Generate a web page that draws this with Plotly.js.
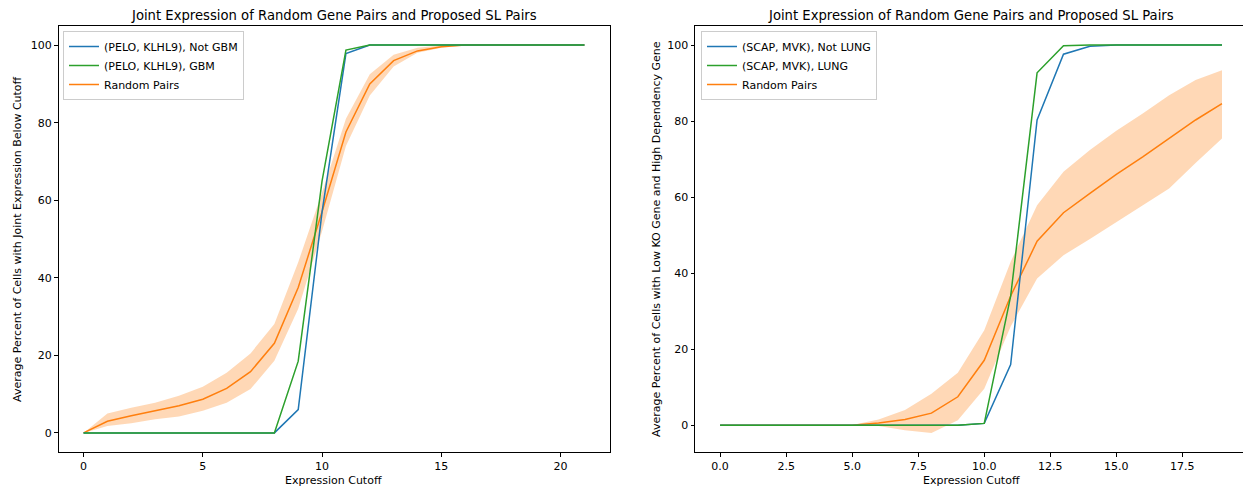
<!DOCTYPE html>
<html>
<head>
<meta charset="utf-8">
<script src="https://cdn.plot.ly/plotly-3.0.1.min.js"></script>
<style>html,body{margin:0;padding:0;background:#fff;}#chart{width:1243px;height:486px;}</style>
</head>
<body>
<div id="chart"></div>
<script>
// ---- Left panel data (PELO, KLHL9) ----
const xLeft = [0,1,2,3,4,5,6,7,8,9,10,11,12,13,14,15,16,17,18,19,20,21];
const notGbm = [0,0,0,0,0,0,0,0,0,6,57,97.8,100,100,100,100,100,100,100,100,100,100];
const gbm    = [0,0,0,0,0,0,0,0,0,18.5,65,98.7,100,100,100,100,100,100,100,100,100,100];
const randLeft      = [0,3.0,4.4,5.7,7.0,8.7,11.5,15.8,23.1,37.5,57,77.6,90.0,96.0,98.5,99.6,100,100,100,100,100,100];
const randLeftLow   = [0,1.8,2.5,3.5,4.2,5.7,7.8,11.3,18.6,32,52,74,87,94.5,98,99.3,99.9,100,100,100,100,100];
const randLeftHigh  = [0,5.0,6.5,7.8,9.6,11.9,15.5,20.5,28.1,44,62,81,92.5,97.5,99.3,99.9,100,100,100,100,100,100];

// ---- Right panel data (SCAP, MVK) ----
const xRight = [0,1,2,3,4,5,6,7,8,9,10,11,12,13,14,15,16,17,18,19];
const notLung = [0,0,0,0,0,0,0,0,0,0,0.5,16,80.3,97.6,99.7,100,100,100,100,100];
const lung    = [0,0,0,0,0,0,0,0,0,0,0.5,34,92.7,99.8,100,100,100,100,100,100];
const randRight     = [0,0,0,0,0,0,0.6,1.5,3.2,7.5,17.1,34,48.4,55.9,61,66,70.6,75.4,80.3,84.6];
const randRightLow  = [0,0,0,0,0,0,-0.2,-1.3,-2,1.3,9.6,26,38.6,44.7,49,53.5,58,62.3,69,75.4];
const randRightHigh = [0,0,0,0,0,0.1,1.5,4,8.3,13.8,25,43,57.9,66.7,72.4,77.5,82,86.8,90.8,93.4];

const titleText = "Joint Expression of Random Gene Pairs and Proposed SL Pairs";
const xTitle = "Expression Cutoff";
const yTitleLeft = "Average Percent of Cells with Joint Expression Below Cutoff";
const yTitleRight = "Average Percent of Cells with Low KO Gene and High Dependency Gene";

const BLUE = "#1f77b4", GREEN = "#2ca02c", ORANGE = "#ff7f0e", BAND = "rgba(255,127,14,0.3)";
const FONT = "DejaVu Sans, sans-serif";
const W = 1243, H = 486;
const FS = 11, TFS = 13.2;

function band(x, lo, hi, xa, ya) {
  return [
    {x: x, y: lo, xaxis: xa, yaxis: ya, mode: "lines", line: {width: 0, color: BAND}, showlegend: false, hoverinfo: "skip"},
    {x: x, y: hi, xaxis: xa, yaxis: ya, mode: "lines", line: {width: 0, color: BAND}, fill: "tonexty", fillcolor: BAND, showlegend: false, hoverinfo: "skip"}
  ];
}
function line(x, y, name, color, xa, ya, leg, rank) {
  return {x: x, y: y, xaxis: xa, yaxis: ya, mode: "lines", name: name, line: {color: color, width: 1.5}, legend: leg, legendrank: rank};
}

const data = [].concat(
  band(xLeft, randLeftLow, randLeftHigh, "x", "y"),
  [line(xLeft, randLeft, "Random Pairs", ORANGE, "x", "y", "legend", 3),
   line(xLeft, notGbm, "(PELO, KLHL9), Not GBM", BLUE, "x", "y", "legend", 1),
   line(xLeft, gbm, "(PELO, KLHL9), GBM", GREEN, "x", "y", "legend", 2)],
  band(xRight, randRightLow, randRightHigh, "x2", "y2"),
  [line(xRight, randRight, "Random Pairs", ORANGE, "x2", "y2", "legend2", 3),
   line(xRight, notLung, "(SCAP, MVK), Not LUNG", BLUE, "x2", "y2", "legend2", 1),
   line(xRight, lung, "(SCAP, MVK), LUNG", GREEN, "x2", "y2", "legend2", 2)]
);

const axisCommon = {
  showgrid: false, zeroline: false, showline: true, mirror: true,
  linecolor: "#000", linewidth: 1, ticks: "outside", ticklen: 3.5, tickwidth: 1,
  tickcolor: "#000", tickfont: {family: FONT, size: FS, color: "#000"}
};
const yDom = [1 - 452.3 / H, 1 - 25.7 / H];

const legendCommon = {
  font: {family: FONT, size: FS, color: "#000"}, bgcolor: "rgba(255,255,255,0.8)",
  bordercolor: "#cccccc", borderwidth: 1, xanchor: "left", yanchor: "top",
  tracegroupgap: 0, traceorder: "normal"
};

const layout = {
  width: W, height: H,
  margin: {l: 0, r: 0, t: 0, b: 0},
  paper_bgcolor: "#fff", plot_bgcolor: "#fff",
  font: {family: FONT, size: FS, color: "#000"},
  xaxis: Object.assign({}, axisCommon, {domain: [58.5 / W, 609.5 / W], range: [-1.05, 22.05], tickvals: [0,5,10,15,20], anchor: "y"}),
  yaxis: Object.assign({}, axisCommon, {domain: yDom, range: [-5, 105], tickvals: [0,20,40,60,80,100], anchor: "x"}),
  xaxis2: Object.assign({}, axisCommon, {domain: [695 / W, 1], range: [-0.95, (W - 720) / 26.42], tickvals: [0,2.5,5,7.5,10,12.5,15,17.5], tickformat: ".1f", anchor: "y2"}),
  yaxis2: Object.assign({}, axisCommon, {domain: yDom, range: [-7.1, 105.1], tickvals: [0,20,40,60,80,100], anchor: "x2"}),
  legend: Object.assign({}, legendCommon, {x: 63 / W, y: 1 - 31 / H}),
  legend2: Object.assign({}, legendCommon, {x: 701 / W, y: 1 - 31 / H}),
  annotations: [
    {text: titleText, x: 334 / W, y: 1 - 15 / H, xref: "paper", yref: "paper", showarrow: false, xanchor: "center", yanchor: "middle", font: {family: FONT, size: TFS, color: "#000"}},
    {text: titleText, x: 971 / W, y: 1 - 15 / H, xref: "paper", yref: "paper", showarrow: false, xanchor: "center", yanchor: "middle", font: {family: FONT, size: TFS, color: "#000"}},
    {text: xTitle, x: 334 / W, y: 1 - 480.5 / H, xref: "paper", yref: "paper", showarrow: false, xanchor: "center", yanchor: "middle", font: {family: FONT, size: FS, color: "#000"}},
    {text: xTitle, x: 971 / W, y: 1 - 480.5 / H, xref: "paper", yref: "paper", showarrow: false, xanchor: "center", yanchor: "middle", font: {family: FONT, size: FS, color: "#000"}},
    {text: yTitleLeft, x: 17 / W, y: 1 - 239 / H, xref: "paper", yref: "paper", showarrow: false, textangle: -90, xanchor: "center", yanchor: "middle", font: {family: FONT, size: FS, color: "#000"}},
    {text: yTitleRight, x: 656 / W, y: 1 - 239 / H, xref: "paper", yref: "paper", showarrow: false, textangle: -90, xanchor: "center", yanchor: "middle", font: {family: FONT, size: FS, color: "#000"}}
  ]
};

Plotly.newPlot("chart", data, layout, {staticPlot: true, displayModeBar: false});
</script>
</body>
</html>
